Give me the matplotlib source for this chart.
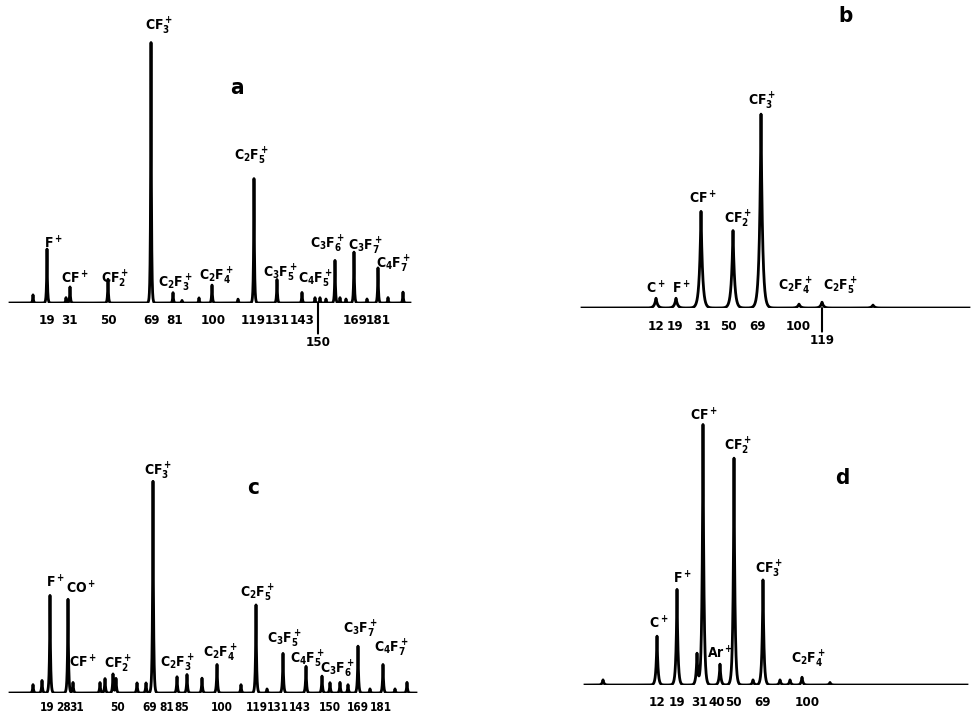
import numpy as np
import matplotlib.pyplot as plt

plt.rcParams['font.family'] = ['DejaVu Sans']
plt.rcParams['font.weight'] = 'bold'
plt.rcParams['font.stretch'] = 'condensed'
plt.rcParams['mathtext.fontset'] = 'custom'
plt.rcParams['mathtext.rm'] = 'DejaVu Sans:weight=bold:stretch=condensed'
plt.rcParams['mathtext.default'] = 'rm'

# scan position (chart units) and relative intensity (% of largest peak)
a_pos = [33, 47, 66, 70, 108, 151, 173, 182, 199, 212, 238, 254, 277, 302,
         315, 320, 326, 335, 340, 346, 354, 367, 378, 388, 403]
a_int = [3, 20, 2, 6, 9, 100, 4, 1, 2, 7, 1.5, 48, 9, 4,
         2, 2, 1.5, 16, 2, 1.5, 19, 1.5, 13, 2, 4]
a_ticks = [47, 70, 108, 151, 175, 213, 253, 277, 302, 355, 378]
a_ticklabels = ['19', '31', '50', '69', '81', '100', '119', '131', '143', '169', '181']
a_ions = [r'CF$_3^+$', r'C$_2$F$_5^+$', r'F$^+$', r'CF$^+$', r'CF$_2^+$', r'C$_2$F$_3^+$',
          r'C$_2$F$_4^+$', r'C$_3$F$_5^+$', r'C$_4$F$_5^+$', r'C$_3$F$_6^+$',
          r'C$_3$F$_7^+$', r'C$_4$F$_7^+$']
a_ion_x = [159, 251, 53, 75, 115, 175, 216, 280, 315, 327, 365, 393]
a_ion_y = [100, 52.4, 20.1, 7.3, 7.3, 5.9, 8.4, 9.5, 7.3, 20.1, 19.4, 12.8]

b_pos = [656, 676, 701, 733, 761, 799, 822, 873]
b_int = [5, 5, 50, 40, 100, 2, 3, 1.5]
b_ticks = [656, 675, 703, 728, 757, 798]
b_ticklabels = ['12', '19', '31', '50', '69', '100']
b_ions = [r'CF$_3^+$', r'CF$^+$', r'CF$_2^+$', r'C$^+$', r'F$^+$',
          r'C$_2$F$_4^+$', r'C$_2$F$_5^+$']
b_ion_x = [762, 703, 738, 656, 681, 795, 840]
b_ion_y = [103.6, 53.6, 43.4, 7.7, 7.7, 9.2, 9.2]

c_pos = [33, 42, 50, 68, 73, 100, 105, 113, 116, 137, 146, 153, 177, 187, 202,
         217, 241, 256, 267, 283, 306, 322, 330, 340, 348, 358, 370, 383, 395, 407]
c_int = [4, 6, 46, 44, 5, 5, 7, 9, 7, 5, 5, 100, 8, 9, 7,
         14, 4, 42, 2, 19, 13, 8, 5, 5, 4, 22, 2, 14, 2, 5]
c_ticks = [47, 63, 77, 117, 150, 167, 182, 222, 257, 278, 300, 330, 358, 381]
c_ticklabels = ['19', '28', '31', '50', '69', '81', '85', '100', '119', '131',
                '143', '150', '169', '181']
c_ions = [r'CF$_3^+$', r'F$^+$', r'CO$^+$', r'CF$^+$', r'CF$_2^+$', r'C$_2$F$_3^+$',
          r'C$_2$F$_4^+$', r'C$_2$F$_5^+$', r'C$_3$F$_5^+$', r'C$_4$F$_5^+$',
          r'C$_3$F$_6^+$', r'C$_3$F$_7^+$', r'C$_4$F$_7^+$']
c_ion_x = [158, 55, 81, 83, 118, 177, 220, 257, 284, 307, 337, 360, 391]
c_ion_y = [102.3, 49.8, 46.9, 12.2, 11.7, 12.2, 16.9, 45, 23.5, 14.1, 9.4, 28.2, 19.2]

d_pos = [603, 657, 677, 697, 703, 720, 734, 753, 763, 780, 790, 802, 830]
d_int = [2, 19, 37, 12, 100, 8, 87, 2, 41, 2, 2, 3, 1]
d_ticks = [657, 677, 700, 717, 733, 762, 807]
d_ticklabels = ['12', '19', '31', '40', '50', '69', '100']
d_ions = [r'CF$^+$', r'CF$_2^+$', r'F$^+$', r'C$^+$', r'CF$_3^+$', r'Ar$^+$',
          r'C$_2$F$_4^+$']
d_ion_x = [704, 738, 682, 659, 769, 720, 808]
d_ion_y = [101.1, 89.7, 38.9, 21.8, 42.7, 10.3, 8.4]

W, H = 971, 717
fig = plt.figure(figsize=(W / 100, H / 100), dpi=100)


def panel(x0, x1, base, top, pos, inten, width, ticks, ticklabels, pad, tsize,
          ions, ion_x, ion_y, letter, letter_xy):
    ax = fig.add_axes([x0 / W, 1 - base / H, (x1 - x0) / W, (base - top) / H])
    x = np.linspace(x0 + 2, x1 - 2, 6000)
    y = np.zeros_like(x)
    for p, h in zip(pos, inten):
        y += h * np.exp(-np.abs(x - p) / width)
    ax.plot(x, y, color='black', lw=2.0, solid_joinstyle='round')
    ax.set_xlim(x0, x1)
    ax.set_ylim(0, 100)
    ax.set_xticks(ticks, ticklabels)
    ax.tick_params(axis='x', length=0, pad=pad, labelsize=tsize)
    ax.set_yticks([])
    for s in ax.spines.values():
        s.set_visible(False)
    ax.patch.set_alpha(0)
    for t, tx, ty in zip(ions, ion_x, ion_y):
        ax.text(tx, ty, t, ha='center', va='baseline', fontsize=10, clip_on=False)
    ax.text(letter_xy[0], letter_xy[1], letter, ha='center', va='center',
            fontsize=16, clip_on=False)
    return ax


ax_a = panel(8, 412, 303, 30, a_pos, a_int, 0.5, a_ticks, a_ticklabels, 8, 9.5,
             a_ions, a_ion_x, a_ion_y, 'a', (237, 78.8))
ax_a.annotate('150', xy=(318, 0), xytext=(0, -24), textcoords='offset points',
              ha='center', va='top', fontsize=9.5,
              arrowprops=dict(arrowstyle='-', lw=1.5, shrinkA=0, shrinkB=0))

ax_b = panel(580, 971, 308, 112, b_pos, b_int, 1.6, b_ticks, b_ticklabels, 9, 9.5,
             b_ions, b_ion_x, b_ion_y, 'b', (846, 149))
ax_b.annotate('119', xy=(822, 0), xytext=(0, -19), textcoords='offset points',
              ha='center', va='top', fontsize=9.5,
              arrowprops=dict(arrowstyle='-', lw=1.5, shrinkA=0, shrinkB=0))

panel(8, 418, 693, 480, c_pos, c_int, 0.6, c_ticks, c_ticklabels, 6, 8.5,
      c_ions, c_ion_x, c_ion_y, 'c', (253, 96.2))

panel(583, 969, 685, 423, d_pos, d_int, 1.0, d_ticks, d_ticklabels, 8, 9.5,
      d_ions, d_ion_x, d_ion_y, 'd', (842, 79))

fig.savefig('out.png', dpi=100)
